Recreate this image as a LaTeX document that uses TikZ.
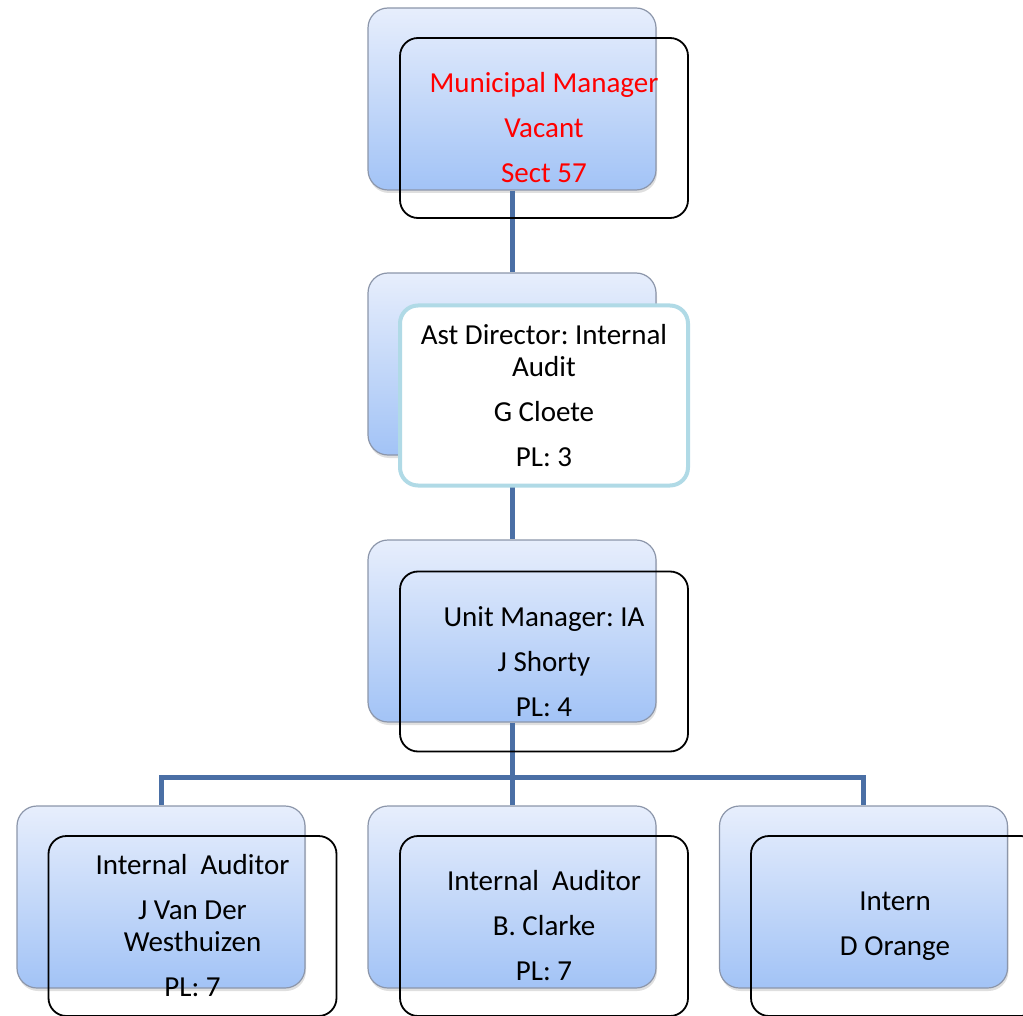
\documentclass[tikz,border=0pt]{standalone}
\usepackage{fontspec}
\setmainfont{Carlito}
\usetikzlibrary{shadows}
\frenchspacing
\definecolor{boxtop}{RGB}{231,238,252}
\definecolor{boxbottom}{RGB}{162,195,246}
\definecolor{boxrim}{RGB}{140,150,170}
\definecolor{linkblue}{RGB}{74,111,165}
\definecolor{rimcyan}{RGB}{176,218,230}
\begin{document}
\begin{tikzpicture}[x=1pt,y=-1pt,
    back/.style={rectangle,rounded corners=20pt,minimum width=288pt,minimum height=182pt,
      draw=boxrim,line width=1.2pt,top color=boxtop,bottom color=boxbottom,
      drop shadow={opacity=0.25,shadow xshift=1pt,shadow yshift=-3pt}},
    front/.style={rectangle,rounded corners=18pt,minimum width=288pt,minimum height=180pt,
      draw=black,line width=1.8pt,align=center,inner sep=0pt,
      font=\fontsize{29}{32}\selectfont},
    link/.style={draw=linkblue,line width=5pt}]
\useasboundingbox (0,0) rectangle (1023,1016);
\clip (0,0) rectangle (1023,1016);
% back boxes
\node[back] (mmB) at (512,99) {};
\node[back] (adB) at (512,364) {};
\node[back] (umB) at (512,631) {};
\node[back] (ia1B) at (161,897) {};
\node[back] (ia2B) at (512,897) {};
\node[back] (inB) at (863.5,897) {};
% connectors
\coordinate (bus) at (512,777);
\draw[link] (mmB.south) -- (adB.north);
\draw[link] (adB.south) -- (umB.north);
\draw[link] (umB.south) -- (bus) -| (ia1B.north);
\draw[link] (bus) -| (inB.north);
\draw[link] (bus) -- (ia2B.north);
% front boxes
\node[front,text=red] (mm) at (544,128) {Municipal Manager\\[13pt]Vacant\\[13pt]Sect 57};
\node[front,draw=rimcyan,line width=4pt,fill=white] (ad) at (544,395.5)
  {Ast Director: Internal\\Audit\\[13pt]G Cloete\\[13pt]PL: 3};
\node[front] (um) at (544,661.5) {Unit Manager: IA\\[13pt]J Shorty\\[13pt]PL: 4};
\node[front] (ia1) at (192.5,926) {Internal\ \ Auditor\\[13pt]J Van Der\\Westhuizen\\[13pt]PL: 7};
\node[front] (ia2) at (544,926) {Internal\ \ Auditor\\[13pt]B. Clarke\\[13pt]PL: 7};
\node[front] (in) at (895,926) {Intern\\[13pt]D Orange};
\end{tikzpicture}
\end{document}
